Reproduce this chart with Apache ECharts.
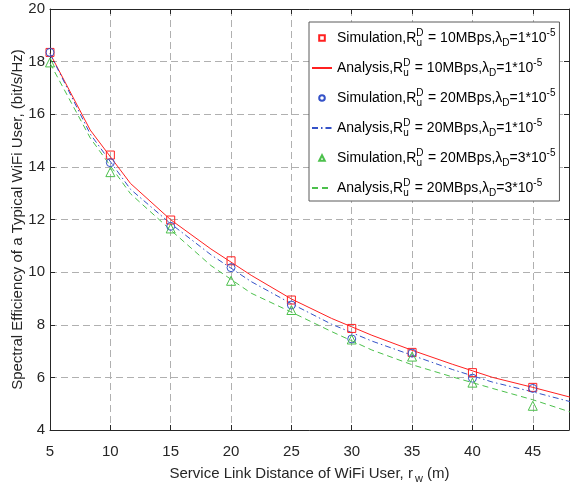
<!DOCTYPE html>
<html>
<head>
<meta charset="utf-8">
<script src="https://cdn.jsdelivr.net/npm/echarts@6/dist/echarts.min.js"></script>
<style>
  html, body { margin: 0; padding: 0; background: #fff; }
  #chart { width: 570px; height: 488px; }
</style>
</head>
<body>
<div id="chart"></div>
<script>
// simulation points (markers)
const simX = [5, 10, 15, 20, 25, 30, 35, 40, 45];
const simRed = [18.35, 14.45, 11.98, 10.43, 8.94, 7.86, 6.95, 6.18, 5.62];
const simBlue = [18.35, 14.16, 11.74, 10.17, 8.75, 7.46, 6.92, 5.97, 5.58];
const simGreen = [17.97, 13.8, 11.66, 9.67, 8.56, 7.44, 6.79, 5.8, 4.92];

// analysis curves
const anaX = [5, 8.333, 11.667, 15, 18.333, 21.667, 25, 28.333, 31.667, 35, 38.333, 41.667, 45, 48.333, 51.667];
const anaRed = [18.31, 15.4, 13.37, 11.99, 10.88, 9.88, 8.98, 8.24, 7.6, 7.03, 6.5, 6.0, 5.62, 5.22, 4.88];
const anaBlue = [18.3, 15.25, 13.15, 11.84, 10.66, 9.64, 8.8, 8.02, 7.38, 6.84, 6.3, 5.82, 5.45, 5.05, 4.7];
const anaGreen = [17.94, 15.1, 12.98, 11.6, 10.25, 9.2, 8.48, 7.74, 7.04, 6.48, 6.02, 5.58, 5.15, 4.65, 4.2];

const FONT = "'Liberation Sans', Arial, sans-serif";
const RED = '#ff2020';
const BLUE = '#3552c8';
const GREEN = '#4cc04c';

function pairs(xs, ys) {
  return xs.map((x, i) => [x, ys[i]]);
}

function legendText(kind, rate, lam) {
  return '{t|' + kind + ',R}{sup|D}{subu|u}{t| = ' + rate + 'MBps,λ}{sub|D}{t|=' + lam + '*10}{sup|-5}';
}

const legendLabels = {
  sim10: legendText('Simulation', 10, 1),
  ana10: legendText('Analysis', 10, 1),
  sim20: legendText('Simulation', 20, 1),
  ana20: legendText('Analysis', 20, 1),
  sim20b: legendText('Simulation', 20, 3),
  ana20b: legendText('Analysis', 20, 3)
};

const chart = echarts.init(document.getElementById('chart'));

function simSeries(name, ys, symbol, color) {
  return {
    name: name,
    type: 'line',
    data: pairs(simX, ys),
    symbol: symbol,
    symbolSize: symbol === 'triangle' ? 9 : 8,
    showSymbol: true,
    lineStyle: { width: 0, color: 'rgba(0,0,0,0)' },
    itemStyle: { color: 'rgba(0,0,0,0)', borderColor: color, borderWidth: 1 },
    emphasis: { disabled: true },
    animation: false,
    z: 3
  };
}

function anaSeries(name, ys, color, dash) {
  return {
    name: name,
    type: 'line',
    data: pairs(anaX, ys),
    symbol: 'none',
    lineStyle: { width: 1, color: color, type: dash },
    itemStyle: { color: 'rgba(0,0,0,0)' },
    emphasis: { disabled: true },
    animation: false,
    z: 2
  };
}

const axisLineStyle = { lineStyle: { color: '#262626', width: 1 } };
const tickStyle = { inside: true, length: 5, lineStyle: { color: '#262626' } };

chart.setOption({
  backgroundColor: '#fff',
  textStyle: { fontFamily: FONT },
  grid: { left: 50, right: 1, top: 9, bottom: 58, outerBoundsMode: 'none', containLabel: false },
  legend: {
    orient: 'vertical',
    left: 309,
    top: 22,
    itemWidth: 20,
    itemHeight: 7,
    itemGap: 10,
    padding: [6, 4, 3, 2],
    backgroundColor: '#fff',
    borderColor: '#5a5a5a',
    borderWidth: 1,
    borderRadius: 0,
    selectedMode: false,
    textStyle: {
      fontFamily: FONT,
      fontSize: 14,
      color: '#000',
      rich: {
        t: { fontFamily: FONT, fontSize: 14, color: '#000' },
        sup: { fontFamily: FONT, fontSize: 10, color: '#000', padding: [0, 0, 10, 0] },
        sub: { fontFamily: FONT, fontSize: 10, color: '#000', padding: [10, 0, 0, 0] },
        subu: { fontFamily: FONT, fontSize: 10, color: '#000', padding: [10, 2, 0, -7] }
      }
    },
    formatter: name => legendLabels[name],
    data: ['sim10', 'ana10', 'sim20', 'ana20', 'sim20b', 'ana20b']
  },
  xAxis: [
    {
      type: 'value',
      min: 5,
      max: 48,
      interval: 5,
      position: 'bottom',
      name: '{a|Service Link Distance of WiFi User, r}{s|w}{a| (m)}',
      nameLocation: 'middle',
      nameGap: 33,
      nameMoveOverlap: false,
      nameTextStyle: {
        rich: {
          a: { fontFamily: FONT, fontSize: 15, color: '#262626' },
          s: { fontFamily: FONT, fontSize: 11, color: '#262626', padding: [10, 0, 0, 2] }
        }
      },
      axisLine: axisLineStyle,
      axisTick: tickStyle,
      axisLabel: { fontFamily: FONT, fontSize: 15, color: '#262626', margin: 14, showMaxLabel: false },
      splitLine: { show: true, lineStyle: { color: '#b0b0b0', type: [7, 4] } }
    },
    {
      type: 'value',
      min: 5,
      max: 48,
      interval: 5,
      position: 'top',
      axisLine: axisLineStyle,
      axisTick: tickStyle,
      axisLabel: { show: false },
      splitLine: { show: false }
    }
  ],
  yAxis: [
    {
      type: 'value',
      min: 4,
      max: 20,
      interval: 2,
      position: 'left',
      name: 'Spectral Efficiency of a Typical WiFi User, (bit/s/Hz)',
      nameLocation: 'middle',
      nameGap: 25,
      nameMoveOverlap: false,
      nameTextStyle: { fontFamily: FONT, fontSize: 15, color: '#262626' },
      axisLine: axisLineStyle,
      axisTick: tickStyle,
      axisLabel: { fontFamily: FONT, fontSize: 15, color: '#262626', margin: 5 },
      splitLine: { show: true, lineStyle: { color: '#b0b0b0', type: [7, 4] } }
    },
    {
      type: 'value',
      min: 4,
      max: 20,
      interval: 2,
      position: 'right',
      axisLine: axisLineStyle,
      axisTick: tickStyle,
      axisLabel: { show: false },
      splitLine: { show: false }
    }
  ],
  series: [
    simSeries('sim10', simRed, 'rect', RED),
    anaSeries('ana10', anaRed, RED, 'solid'),
    simSeries('sim20', simBlue, 'circle', BLUE),
    anaSeries('ana20', anaBlue, BLUE, [6, 3, 1.5, 3]),
    simSeries('sim20b', simGreen, 'triangle', GREEN),
    anaSeries('ana20b', anaGreen, GREEN, [6, 4])
  ]
});
</script>
</body>
</html>
